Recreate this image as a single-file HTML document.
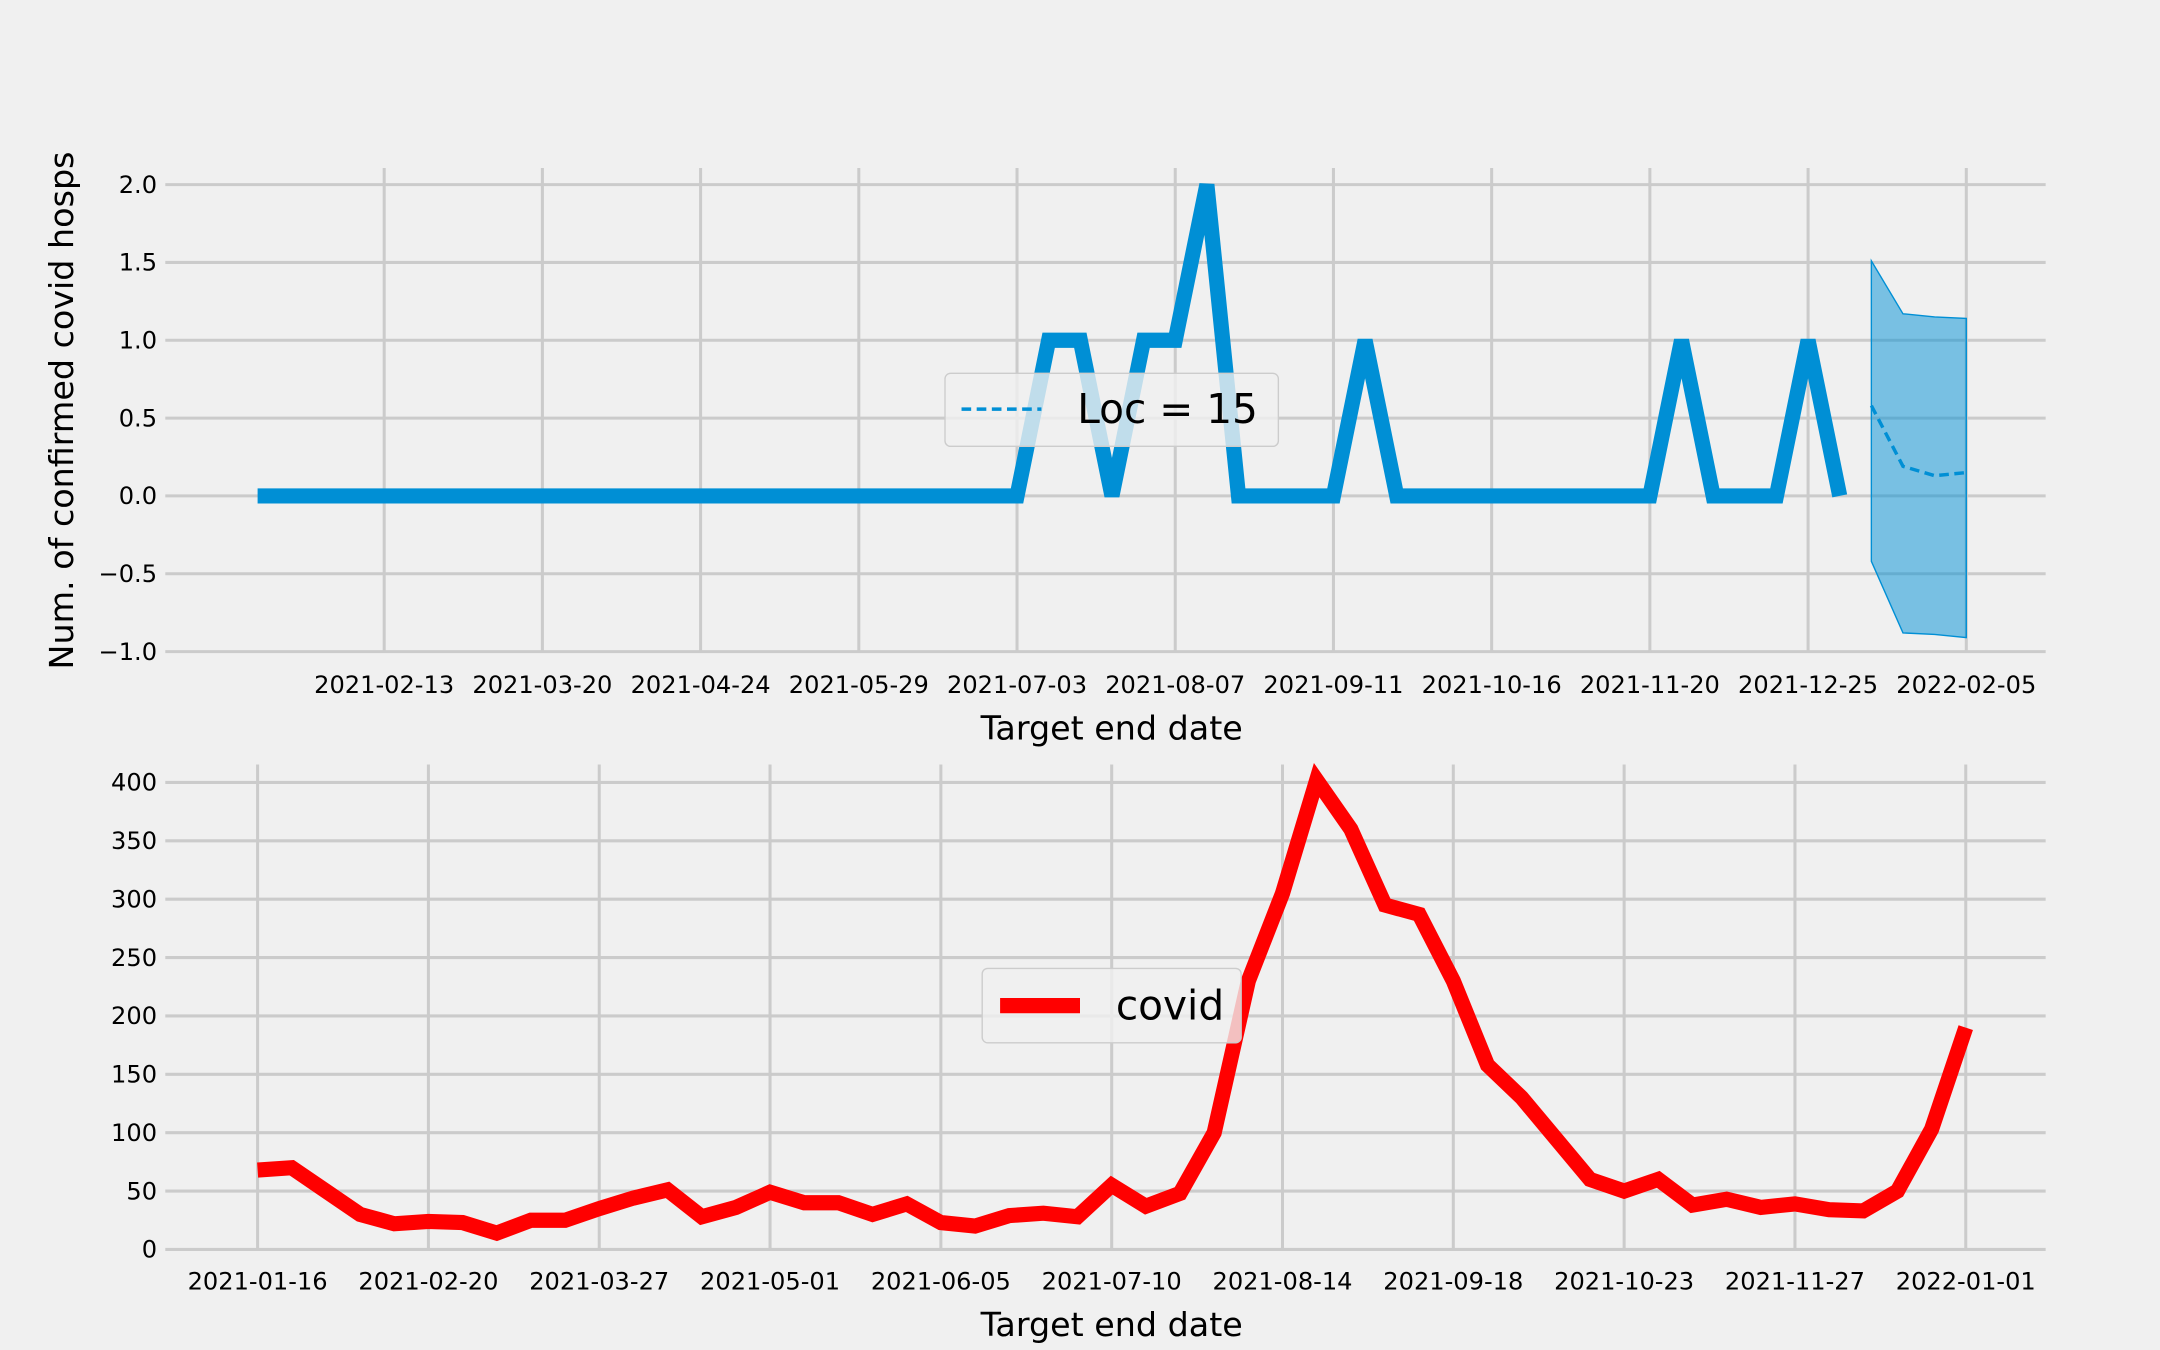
<!DOCTYPE html>
<html><head><meta charset="utf-8"><style>
html,body{margin:0;padding:0;background:#f0f0f0;}
svg{display:block;font-family:"DejaVu Sans","Liberation Sans",sans-serif;}
</style></head><body>
<svg id="fig" width="2160" height="1350" viewBox="0 0 1568 980" xmlns="http://www.w3.org/2000/svg">
<rect width="1568" height="980" fill="#f0f0f0"/>
<g id="top"></g>
<g id="bot"></g>
</svg>
<script>
const topValues = [0,0,0,0,0,0,0,0,0,0,0,0,0,0,0,0,0,0,0,0,0,0,0,0,0,1,1,0,1,1,2,0,0,0,0,1,0,0,0,0,0,0,0,0,0,1,0,0,0,1,0];
const fcIndex = [51,52,53,54];
const fcMean = [0.58,0.19,0.13,0.15];
const fcUpper = [1.51,1.17,1.15,1.14];
const fcLower = [-0.42,-0.88,-0.89,-0.91];
const topTickIdx = [4,9,14,19,24,29,34,39,44,49,54];
const topTickLabels = ["2021-02-13","2021-03-20","2021-04-24","2021-05-29","2021-07-03","2021-08-07","2021-09-11","2021-10-16","2021-11-20","2021-12-25","2022-02-05"];
const topYTicks = [-1.0,-0.5,0.0,0.5,1.0,1.5,2.0];
const covidValues = [68,70,50,30,22,24,23,14,25,25,35,44,51,28,36,49,40,40,30,39,23,20,29,31,28,55,37,48,100,230,305,402,360,295,287,230,158,130,95,60,50,60,38,43,36,39,34,33,50,103,190];
const botTickIdx = [0,5,10,15,20,25,30,35,40,45,50];
const botTickLabels = ["2021-01-16","2021-02-20","2021-03-27","2021-05-01","2021-06-05","2021-07-10","2021-08-14","2021-09-18","2021-10-23","2021-11-27","2022-01-01"];
const botYTicks = [0,50,100,150,200,250,300,350,400];

const NS="http://www.w3.org/2000/svg";
function mk(p,tag,attrs,txt){const e=document.createElementNS(NS,tag);for(const k in attrs)e.setAttribute(k,attrs[k]);if(txt!==undefined)e.textContent=txt;p.appendChild(e);return e;}
const TF=17.5, AF=24.2, LF=29.5;

const T=document.getElementById('top');
const tx=i=>187+i*22.97;
const ty=v=>360-v*113;
const L1=120,R1=1485;
topYTicks.forEach(v=>{
 const g=mk(T,'line',{x1:L1,x2:R1,y1:ty(v),y2:ty(v),stroke:'#cbcbcb','stroke-width':2.2});
 
 
 const t=mk(T,'text',{x:114,y:ty(v)+6,'text-anchor':'end','font-size':TF,fill:'#000'},v.toFixed(1).replace('-','\u2212'));
 
 
});
topTickIdx.forEach((i,k)=>{
 const g=mk(T,'line',{x1:tx(i),x2:tx(i),y1:122,y2:473,stroke:'#cbcbcb','stroke-width':2.2});
 
 
 const t=mk(T,'text',{x:tx(i),y:503,'text-anchor':'middle','font-size':TF,fill:'#000'},topTickLabels[k]);
 
 
});
let band='';
fcIndex.forEach((i,k)=>band+=(k?'L':'M')+tx(i)+','+ty(fcUpper[k]));
for(let k=fcIndex.length-1;k>=0;k--)band+='L'+tx(fcIndex[k])+','+ty(fcLower[k]);
const bd=mk(T,'path',{d:band+'Z',fill:'#008fd5','fill-opacity':0.5,stroke:'#008fd5','stroke-width':1});


const ln=mk(T,'polyline',{points:topValues.map((v,i)=>tx(i)+','+ty(v)).join(' '),fill:'none',stroke:'#008fd5','stroke-width':11,'stroke-linejoin':'miter'});


const fm=mk(T,'polyline',{points:fcIndex.map((i,k)=>tx(i)+','+ty(fcMean[k])).join(' '),fill:'none',stroke:'#008fd5','stroke-width':2.5,'stroke-dasharray':'7,4'});


const yl=mk(T,'text',{x:0,y:0,transform:'translate(53,298) rotate(-90)','text-anchor':'middle','font-size':AF,fill:'#000'},'Num. of confirmed covid hosps');


const xl=mk(T,'text',{x:807,y:537,'text-anchor':'middle','font-size':AF,fill:'#000'},'Target end date');


const lg=mk(T,'g',{});


mk(lg,'rect',{x:686,y:271,width:242,height:53,rx:4,fill:'#f0f0f0','fill-opacity':0.8,stroke:'#cccccc'});
mk(lg,'line',{x1:698,x2:756,y1:297,y2:297,stroke:'#008fd5','stroke-width':2.5,'stroke-dasharray':'7,4'});
mk(lg,'text',{x:782,y:307,'font-size':LF,fill:'#000'},'Loc = 15');

const B=document.getElementById('bot');
const bx=i=>187+i*24.8;
const by=v=>907-v*0.8475;
const L2=120,R2=1485;
botYTicks.forEach(v=>{
 const g=mk(B,'line',{x1:L2,x2:R2,y1:by(v),y2:by(v),stroke:'#cbcbcb','stroke-width':2.2});
 
 
 const t=mk(B,'text',{x:114,y:by(v)+6,'text-anchor':'end','font-size':TF,fill:'#000'},String(v));
 
 
});
botTickIdx.forEach((i,k)=>{
 const g=mk(B,'line',{x1:bx(i),x2:bx(i),y1:555,y2:907,stroke:'#cbcbcb','stroke-width':2.2});
 
 
 const t=mk(B,'text',{x:bx(i),y:936,'text-anchor':'middle','font-size':TF,fill:'#000'},botTickLabels[k]);
 
 
});
const cl=mk(B,'polyline',{points:covidValues.map((v,i)=>bx(i)+','+by(v)).join(' '),fill:'none',stroke:'#ff0000','stroke-width':11,'stroke-linejoin':'miter'});


const xl2=mk(B,'text',{x:807,y:970,'text-anchor':'middle','font-size':AF,fill:'#000'},'Target end date');


const lg2=mk(B,'g',{});


mk(lg2,'rect',{x:713,y:703,width:188,height:54,rx:4,fill:'#f0f0f0','fill-opacity':0.8,stroke:'#cccccc'});
mk(lg2,'line',{x1:726,x2:784,y1:730,y2:730,stroke:'#ff0000','stroke-width':11});
mk(lg2,'text',{x:810,y:740,'font-size':LF,fill:'#000'},'covid');
</script>
</body></html>
